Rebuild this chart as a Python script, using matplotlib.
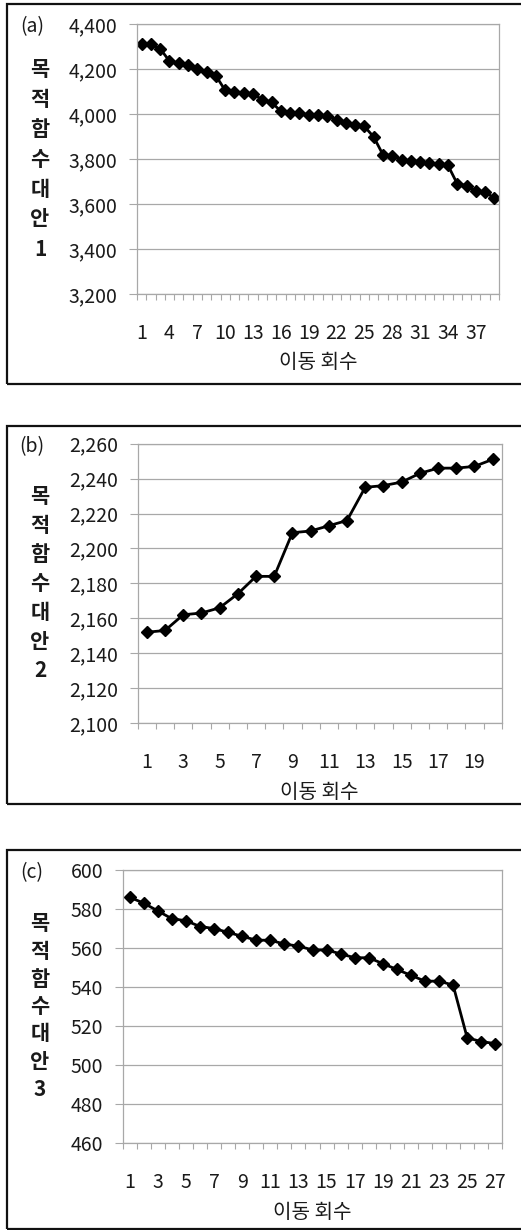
import numpy as np
import matplotlib
matplotlib.use("Agg")
import matplotlib.pyplot as plt
from matplotlib.patches import Rectangle
from matplotlib.ticker import FuncFormatter

plt.rcParams['font.family'] = ['Noto Sans CJK KR', 'DejaVu Sans']

# objective function value after each move, for the three alternatives
obj_alt1 = [4310, 4310, 4290, 4235, 4225, 4220, 4200, 4185, 4170, 4105,
            4100, 4093, 4088, 4064, 4052, 4012, 4004, 4003, 3997, 3996,
            3990, 3975, 3960, 3953, 3945, 3898, 3819, 3815, 3797, 3790,
            3787, 3782, 3779, 3772, 3690, 3682, 3657, 3655, 3625]
obj_alt2 = [2152, 2153, 2162, 2163, 2166, 2174, 2184, 2184, 2209, 2210,
            2213, 2216, 2235, 2236, 2238, 2243, 2246, 2246, 2247, 2251]
obj_alt3 = [586, 583, 579, 575, 574, 571, 570, 568, 566, 564,
            564, 562, 561, 559, 559, 557, 555, 555, 552, 549,
            546, 543, 543, 541, 514, 512, 511]

panel_tags = ['(a)', '(b)', '(c)']
alt_ids = ['1', '2', '3']
y_ranges = [(3200, 4400, 200), (2100, 2260, 20), (460, 600, 20)]
x_label_steps = [3, 2, 2]
x_title = '이동 회수'
y_title = '목적함수대안'

W, H = 521, 1230
fig = plt.figure(figsize=(W / 100, H / 100), dpi=100)

# pixel layout: (left, top, right, bottom) of each plot area, frame top/bottom
plot_px = [(137, 24, 499, 294), (137.7, 443.7, 501.7, 723), (122.7, 870, 502.3, 1143)]
frame_px = [(4, 384), (426, 804), (850, 1229)]
char_gap = [30, 29, 27.5]

TXT = '#1a1a1a'
GRID = '#a8a8a8'
FS = 14

series = [obj_alt1, obj_alt2, obj_alt3]

for i, vals in enumerate(series):
    l, t, r, b = plot_px[i]
    ax = fig.add_axes([l / W, 1 - b / H, (r - l) / W, (b - t) / H])
    n = len(vals)
    x = np.arange(1, n + 1)
    ax.plot(x, vals, color='black', lw=2.0, marker='D', markersize=6.5,
            solid_joinstyle='round')

    lo, hi, step = y_ranges[i]
    ax.set_ylim(lo, hi)
    ax.set_yticks(np.arange(lo, hi + step / 2, step))
    ax.yaxis.set_major_formatter(FuncFormatter(lambda v, p: f'{int(v):,}'))
    ax.grid(axis='y', color=GRID, lw=0.9)
    ax.set_axisbelow(True)

    ax.set_xlim(0.5, n + 0.5)
    ax.set_xticks(np.arange(1, n + 1, x_label_steps[i]))
    ax.set_xticks(np.arange(0.5, n + 1, 1), minor=True)
    ax.tick_params(axis='x', which='major', length=0, pad=21,
                   labelsize=FS, labelcolor=TXT)
    ax.tick_params(axis='x', which='minor', length=4.5, width=0.8, color=GRID)
    ax.tick_params(axis='y', which='major', length=6, width=0.8, color=GRID,
                   pad=8, labelsize=FS, labelcolor=TXT)
    for s in ax.spines.values():
        s.set_color(GRID)
        s.set_linewidth(0.9)

    fig.text((l + r) / 2 / W, 1 - (b + 69) / H, x_title, ha='center',
             va='center', fontsize=FS + 0.5, color=TXT, fontweight='medium')

    # panel tag next to the top tick label
    fig.text(32 / W, 1 - (t + 3) / H, panel_tags[i], ha='center', va='center',
             fontsize=FS, color=TXT)

    # stacked vertical axis title
    chars = list(y_title.replace(' ', '')) + [alt_ids[i]]
    yc = (t + b) / 2
    for k, ch in enumerate(chars):
        yy = yc + (k - (len(chars) - 1) / 2) * char_gap[i]
        fig.text(40 / W, 1 - yy / H, ch, ha='center', va='center',
                 fontsize=FS + 1, color=TXT, fontweight='bold')

    # outer frame around each panel, running off the right edge
    ft, fb = frame_px[i]
    fig.add_artist(Rectangle((7 / W, 1 - fb / H), 600 / W, (fb - ft) / H,
                             transform=fig.transFigure, fill=False,
                             edgecolor='#111111', lw=1.6))

fig.savefig('out.png', dpi=100)
